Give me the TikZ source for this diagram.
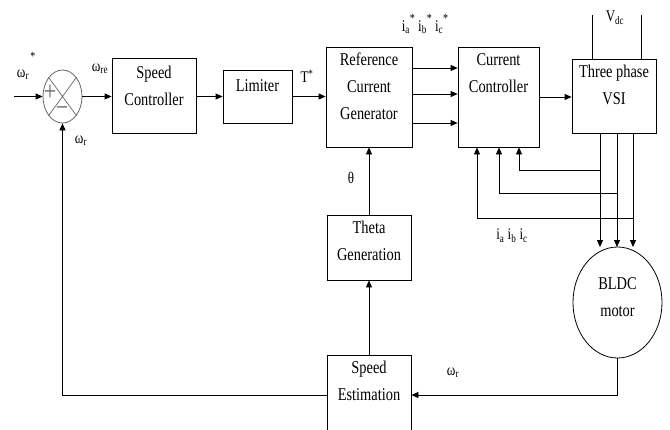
\documentclass[tikz,border=0pt]{standalone}
\usepackage{fontspec}
\setmainfont{Liberation Serif}
\usepackage{graphicx}
\usetikzlibrary{arrows.meta,shapes.geometric}
\newcommand\vs[1]{\scalebox{1}[1.25]{#1}}
\newcommand\stx{\raisebox{7pt}{\fontsize{10}{10}\selectfont*}}
\begin{document}
\begin{tikzpicture}[x=1pt,y=-1pt,
  box/.style={draw,line width=0.8pt,inner sep=0pt},
  txt/.style={font=\fontsize{14.4}{27}\selectfont,align=center,inner sep=0pt},
  lbl/.style={font=\fontsize{13}{15}\selectfont,inner sep=0pt},
  arr/.style={-{Triangle[length=7pt,width=6pt]},line width=0.8pt},
  ln/.style={line width=0.8pt}]
\clip (0,0) rectangle (670,429);
\fill[white] (0,0) rectangle (670,429);
% summing junction
\node[ellipse,draw=black!60,line width=0.8pt,minimum width=39pt,minimum height=53pt,inner sep=0pt] (sum) at (62.5,96.5) {};
\draw[black!60,line width=0.7pt] (sum.126) -- (sum.306) (sum.54) -- (sum.234);
\node[font=\fontsize{22}{22}\selectfont,text=black!60,inner sep=0pt] (plus) at (50,93) {\vs{+}};
\node[font=\fontsize{22}{22}\selectfont,text=black!60,inner sep=0pt] (minus) at (62,112) {\vs{−}};
% blocks
\node[box,minimum width=84pt,minimum height=75pt] (sc) at (154,95.5) {};
\node[txt] (sct) at (154,86) {\vs{Speed}\\\vs{Controller}};
\node[box,minimum width=69pt,minimum height=53pt] (lim) at (257.5,96.5) {};
\node[txt] (limt) at (257.5,86) {\vs{Limiter}};
\node[box,minimum width=86pt,minimum height=100pt] (rcg) at (369,97) {};
\node[txt] (rcgt) at (369,86.5) {\vs{Reference}\\\vs{Current}\\\vs{Generator}};
\node[box,minimum width=81pt,minimum height=100pt] (cc) at (498.5,97) {};
\node[txt] (cct) at (498.5,73.5) {\vs{Current}\\\vs{Controller}};
\node[box,minimum width=84pt,minimum height=74pt] (vsi) at (614,96) {};
\node[txt] (vsit) at (614,85) {\vs{Three phase}\\\vs{VSI}};
\node[box,minimum width=84pt,minimum height=65pt] (th) at (369,247.5) {};
\node[txt] (tht) at (369,240.5) {\vs{Theta}\\\vs{Generation}};
\node[box,minimum width=84pt,minimum height=80pt] (se) at (369,395) {};
\node[txt] (set) at (369,380.5) {\vs{Speed}\\\vs{Estimation}};
\node[ellipse,draw,line width=0.8pt,minimum width=89pt,minimum height=111pt,inner sep=0pt] (motor) at (617.5,302.5) {};
\node[txt] (motort) at (617.5,297) {\vs{BLDC}\\\vs{motor}};
% input
\coordinate (in) at (14,96.5);
\draw[arr] (in) -- (sum.west);
\draw[arr] (sum.east) -- (sum.east -| sc.west);
\draw[arr] (sc.east |- lim.west) -- (lim.west);
\draw[arr] (lim.east) -- (lim.east -| rcg.west);
\draw[arr] (rcg.east |- 0,68) -- (cc.west |- 0,68);
\draw[arr] (rcg.east |- 0,94) -- (cc.west |- 0,94);
\draw[arr] (rcg.east |- 0,123) -- (cc.west |- 0,123);
\draw[arr] (cc.east) -- (cc.east -| vsi.west);
% Vdc
\draw[ln] (vsi.north -| 592,0) -- (592,15);
\draw[ln] (vsi.north -| 641,0) -- (641,15);
% VSI to motor
\draw[arr] (vsi.south -| 600,0) -- (600,247);
\draw[arr] (vsi.south -| 617,0) -- (617,247);
\draw[arr] (vsi.south -| 633,0) -- (633,247);
% current feedback
\coordinate (fa) at (600,170);
\coordinate (fb) at (617,193);
\coordinate (fc) at (633,218);
\draw[arr] (fa) -| (cc.south -| 519,0);
\draw[arr] (fb) -| (cc.south -| 499,0);
\draw[arr] (fc) -| (cc.south -| 477,0);
% theta, speed estimation
\draw[arr] (th.north) -- (rcg.south);
\draw[arr] (se.north) -- (th.south);
\draw[arr] (motor.south) |- (se.east);
\draw[arr] (se.west) -| (sum.south);
% labels
\node[lbl] (lwr) at (23,75) {\vs{ω\textsubscript{r}}};
\node[lbl] (lwrs) at (33,56) {\fontsize{10}{10}\selectfont\vs{*}};
\node[lbl] (lwre) at (100,69) {\vs{ω\textsubscript{re}}};
\node[lbl] (lwr2) at (81,141) {\vs{ω\textsubscript{r}}};
\node[lbl] (lT) at (307,76) {\vs{T\textsuperscript{*}}};
\node[lbl] (liabc) at (425,24) {\vs{i\textsubscript{a}\stx\ i\textsubscript{b}\stx\ i\textsubscript{c}\stx}};
\node[lbl] (lth) at (351,178) {\vs{θ}};
\node[lbl] (liabc2) at (512,236) {\vs{i\textsubscript{a} i\textsubscript{b} i\textsubscript{c}}};
\node[lbl] (lvdc) at (615,18) {\vs{V\textsubscript{dc}}};
\node[lbl] (lwr3) at (453,373) {\vs{ω\textsubscript{r}}};
\end{tikzpicture}
\end{document}
